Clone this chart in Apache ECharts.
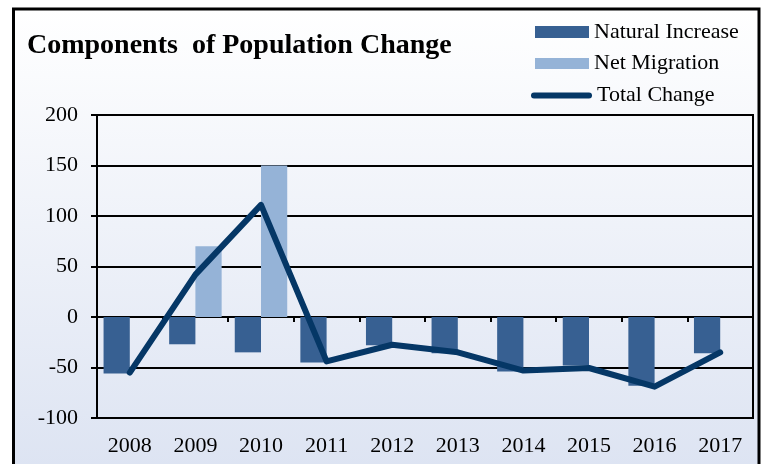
<!DOCTYPE html>
<html>
<head>
<meta charset="utf-8">
<script src="https://cdn.jsdelivr.net/npm/echarts@6/dist/echarts.min.js"></script>
<style>html,body{margin:0;padding:0;background:#fff}#c{width:763px;height:464px}</style>
</head>
<body>
<div id="c"></div>
<script>
var years = ['2008','2009','2010','2011','2012','2013','2014','2015','2016','2017'];
var naturalIncrease = [-56, -27, -35, -45, -28, -36, -54, -48, -68, -36];
var netMigration = [0, 70, 150, 0, 0, 0, 0, 0, 0, 0];
var totalChange = [-55, 42, 111, -44, -27.5, -35, -53, -50.5, -69, -35];
var yTicks = {min: -100, max: 200, step: 50};

var FONT = '"Liberation Serif", "Times New Roman", serif';
var chart = echarts.init(document.getElementById('c'), null, {renderer: 'canvas'});
chart.setOption({
  animation: false,
  graphic: [
    {type: 'rect', z: -10, shape: {x: 13.5, y: 9, width: 745.5, height: 470},
     style: {fill: new echarts.graphic.LinearGradient(0, 0, 0, 1, [
       {offset: 0, color: '#ffffff'}, {offset: 1, color: '#dce3f2'}]),
       stroke: '#000', lineWidth: 3}},
    {type: 'text', z: 10, x: 27, y: 46,
     style: {text: 'Components  of Population Change', font: 'bold 28px "Liberation Serif"', fill: '#000', verticalAlign: 'middle'}}
  ],
  legend: [
    {data: ['Natural Increase'], left: 535, top: 21, padding: 0, itemWidth: 54, itemHeight: 12, icon: 'rect',
     textStyle: {fontFamily: FONT, fontSize: 22, color: '#000'}},
    {data: ['Net Migration'], left: 535, top: 52.5, padding: 0, itemWidth: 54, itemHeight: 11, icon: 'rect',
     textStyle: {fontFamily: FONT, fontSize: 22, color: '#000'}},
    {data: ['Total Change'], left: 531, top: 84.5, padding: 0, itemWidth: 61, itemHeight: 6,
     icon: 'path://M3,0H58A3,3,0,0,1,58,6H3A3,3,0,0,1,3,0Z',
     textStyle: {fontFamily: FONT, fontSize: 22, color: '#000'}}
  ],
  grid: {left: 97, right: 10, top: 115, bottom: 46, show: true, borderColor: '#000', borderWidth: 2, backgroundColor: 'transparent'},
  xAxis: [
    {type: 'category', data: years, position: 'bottom',
     axisLine: {onZero: true, lineStyle: {color: '#000', width: 2}},
     axisTick: {show: true, length: 5, inside: false, lineStyle: {color: '#000', width: 2}},
     axisLabel: {show: false}, splitLine: {show: false}},
    {type: 'category', data: years, position: 'bottom',
     axisLine: {show: false, onZero: false}, axisTick: {show: false},
     axisLabel: {show: true, margin: 17, fontFamily: FONT, fontSize: 22, color: '#000'}}
  ],
  yAxis: {type: 'value', min: yTicks.min, max: yTicks.max, interval: yTicks.step,
    axisLine: {show: true, lineStyle: {color: '#000', width: 2}},
    axisTick: {show: true, length: 6, lineStyle: {color: '#000', width: 2}},
    axisLabel: {margin: 19, fontFamily: FONT, fontSize: 22, color: '#000'},
    splitLine: {show: true, lineStyle: {color: '#000', width: 2}}},
  series: [
    {name: 'Natural Increase', type: 'bar', data: naturalIncrease, barGap: '0%', barCategoryGap: '20%',
     itemStyle: {color: '#376092'}},
    {name: 'Net Migration', type: 'bar', data: netMigration, itemStyle: {color: '#95b3d7'}},
    {name: 'Total Change', type: 'line', data: totalChange, symbol: 'none',
     itemStyle: {color: '#053766'},
     lineStyle: {color: '#053766', width: 6, cap: 'round', join: 'round'}}
  ]
});
</script>
</body>
</html>
